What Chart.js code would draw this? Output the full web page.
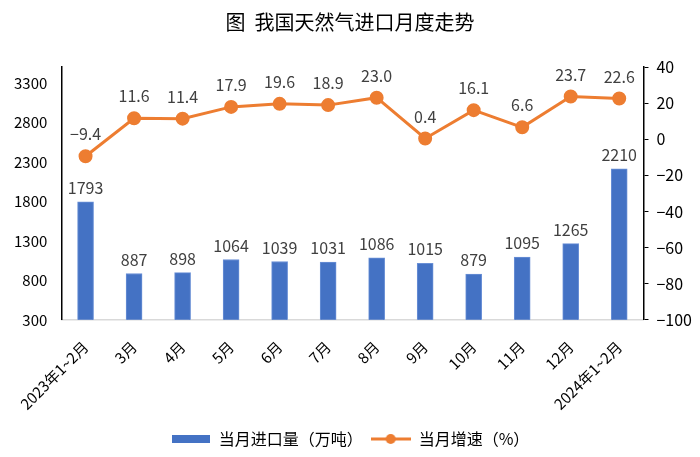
<!DOCTYPE html>
<html>
<head>
<meta charset="utf-8">
<script src="https://cdn.jsdelivr.net/npm/chart.js@4"></script>
<style>
  html, body { margin: 0; padding: 0; background: #fff; }
  #wrap { width: 700px; height: 457px; }
</style>
</head>
<body>
<div id="wrap"><canvas id="chart"></canvas></div>
<script>
const categories = ['2023年1~2月', '3月', '4月', '5月', '6月', '7月', '8月', '9月', '10月', '11月', '12月', '2024年1~2月'];
const importVolume = [1793, 887, 898, 1064, 1039, 1031, 1086, 1015, 879, 1095, 1265, 2210];
const growthRate = [-9.4, 11.6, 11.4, 17.9, 19.6, 18.9, 23.0, 0.4, 16.1, 6.6, 23.7, 22.6];
const leftTicks = [300, 800, 1300, 1800, 2300, 2800, 3300];
const rightTicks = [-100, -80, -60, -40, -20, 0, 20, 40];

const FONT = '"Noto Sans CJK SC", "Noto Sans", sans-serif';
const BLUE = '#4472C4';
const ORANGE = '#ED7D31';

// legend swatches
function barSwatch() {
  const c = document.createElement('canvas');
  c.width = 38; c.height = 8;
  const g = c.getContext('2d');
  g.fillStyle = BLUE;
  g.fillRect(0, 0, 38, 8);
  return c;
}
function lineSwatch() {
  const c = document.createElement('canvas');
  c.width = 40; c.height = 12;
  const g = c.getContext('2d');
  g.strokeStyle = ORANGE; g.lineWidth = 3;
  g.beginPath(); g.moveTo(0, 6); g.lineTo(40, 6); g.stroke();
  g.fillStyle = ORANGE;
  g.beginPath(); g.arc(20, 6, 5, 0, Math.PI * 2); g.fill();
  return c;
}

const minus = v => (v < 0 ? '−' + Math.abs(v) : String(v));

const valueLabels = {
  id: 'valueLabels',
  afterDatasetsDraw(chart) {
    const ctx = chart.ctx;
    ctx.save();
    ctx.fillStyle = '#404040';
    ctx.font = '16px ' + FONT;
    ctx.textAlign = 'center';
    ctx.textBaseline = 'bottom';
    // dataset 1 = bars, dataset 0 = line
    chart.getDatasetMeta(1).data.forEach((bar, i) => {
      ctx.fillText(String(importVolume[i]), bar.x, bar.y - 6);
    });
    chart.getDatasetMeta(0).data.forEach((pt, i) => {
      ctx.fillText(minus(growthRate[i].toFixed(1)), pt.x, pt.y - 14);
    });
    ctx.restore();
  }
};

new Chart(document.getElementById('chart'), {
  data: {
    labels: categories,
    datasets: [
      {
        type: 'line',
        label: '当月增速（%）',
        data: growthRate,
        yAxisID: 'y1',
        borderColor: ORANGE,
        backgroundColor: ORANGE,
        borderWidth: 3,
        pointRadius: 5.5,
        pointHoverRadius: 5.5,
        tension: 0,
        order: 0
      },
      {
        type: 'bar',
        label: '当月进口量（万吨）',
        data: importVolume,
        yAxisID: 'y',
        backgroundColor: BLUE,
        borderColor: '#6a90d6',
        borderWidth: 1,
        barThickness: 16,
        order: 1
      }
    ]
  },
  options: {
    responsive: true,
    maintainAspectRatio: false,
    animation: false,
    layout: { padding: { left: 0, right: 0, top: 0, bottom: 0 } },
    plugins: {
      title: {
        display: true,
        text: '图  我国天然气进口月度走势',
        color: '#000',
        font: { family: FONT, size: 20, weight: 'normal' },
        padding: { top: 10, bottom: 33 }
      },
      legend: {
        position: 'bottom',
        labels: {
          color: '#000',
          font: { family: FONT, size: 16 },
          usePointStyle: true,
          pointStyleWidth: 40,
          padding: 8,
          generateLabels(chart) {
            return [
              { text: '当月进口量（万吨）', pointStyle: barSwatch(), datasetIndex: 1, fillStyle: BLUE, strokeStyle: BLUE, lineWidth: 0 },
              { text: '当月增速（%）', pointStyle: lineSwatch(), datasetIndex: 0, fillStyle: ORANGE, strokeStyle: ORANGE, lineWidth: 0 }
            ];
          }
        }
      },
      tooltip: { enabled: false }
    },
    scales: {
      x: {
        grid: { display: false },
        border: { display: true, color: '#d9d9d9', width: 1.5 },
        ticks: {
          color: '#000',
          font: { family: FONT, size: 15 },
          maxRotation: 45,
          minRotation: 45,
          padding: 10
        }
      },
      y: {
        position: 'left',
        min: 300,
        max: 3500,
        afterBuildTicks(axis) { axis.ticks = leftTicks.map(v => ({ value: v })); },
        grid: { drawOnChartArea: false, drawTicks: false },
        border: { display: true, color: '#000', width: 1.5 },
        ticks: { color: '#000', font: { family: FONT, size: 15 }, padding: 14, callback: v => String(v) }
      },
      y1: {
        position: 'right',
        min: -100,
        max: 40,
        afterBuildTicks(axis) { axis.ticks = rightTicks.map(v => ({ value: v })); },
        grid: { drawOnChartArea: false, drawTicks: true, tickLength: 5, color: '#000' },
        border: { display: true, color: '#000', width: 1.5 },
        ticks: { color: '#000', font: { family: FONT, size: 16 }, padding: 8, callback: v => minus(v) }
      }
    }
  },
  plugins: [valueLabels]
});
</script>
</body>
</html>
